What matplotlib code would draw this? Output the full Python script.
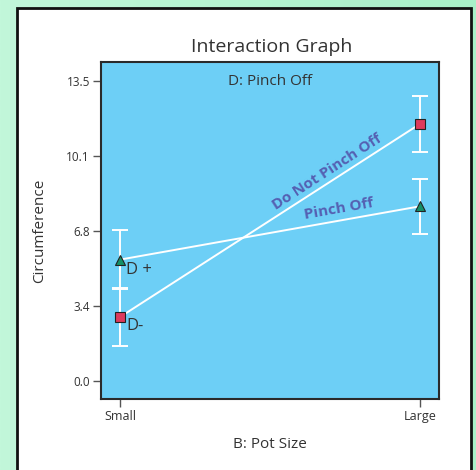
import numpy as np
import matplotlib
matplotlib.use("Agg")
import matplotlib.pyplot as plt
from matplotlib.patches import Rectangle
from matplotlib.colors import LinearSegmentedColormap

# Interaction of B (pot size) with D (pinch off) on circumference
pot_sizes = ["Small", "Large"]
pinch_off_means = [5.45, 7.85]        # D+
pinch_off_err = [1.33, 1.24]
no_pinch_means = [2.87, 11.56]        # D-
no_pinch_err = [1.31, 1.25]
y_ticks = [0.0, 3.375, 6.75, 10.125, 13.5]
y_tick_labels = ["0.0", "3.4", "6.8", "10.1", "13.5"]

plt.rcParams["font.family"] = ["Open Sans", "DejaVu Sans"]

fig = plt.figure(figsize=(4.77, 4.70), dpi=100)

# mint gradient backdrop
bg = fig.add_axes([0, 0, 1, 1], zorder=-10)
grad = np.linspace(0, 1, 256).reshape(1, -1)
cmap = LinearSegmentedColormap.from_list("mint", ["#c2f7da", "#a9f0c8"])
bg.imshow(grad, aspect="auto", cmap=cmap, extent=[0, 1, 0, 1])
bg.set_xlim(0, 1)
bg.set_ylim(0, 1)
bg.set_axis_off()

# white card with black border
card = Rectangle((17 / 477, -0.05), (471.5 - 17) / 477, 1.05 - 7.5 / 470,
                 transform=fig.transFigure, facecolor="white",
                 edgecolor="#111111", linewidth=2.0, zorder=-5)
fig.patches.append(card)

ax = fig.add_axes([101 / 477, 1 - 399.3 / 470, 338.5 / 477, 337.6 / 470])
ax.set_facecolor("#6dcff6")

x = np.arange(len(pot_sizes))
line_kw = dict(color="white", linewidth=1.4, zorder=2)
ax.plot(x, no_pinch_means, **line_kw)
ax.plot(x, pinch_off_means, **line_kw)

eb_kw = dict(fmt="none", ecolor="white", elinewidth=1.4, capsize=5.5,
             capthick=1.4, zorder=3)
ax.errorbar(x, no_pinch_means, yerr=no_pinch_err, **eb_kw)
ax.errorbar(x, pinch_off_means, yerr=pinch_off_err, **eb_kw)

ax.plot(x, no_pinch_means, linestyle="none", marker="s", markersize=6.5,
        markerfacecolor="#dd3a5c", markeredgecolor="#222222",
        markeredgewidth=0.8, zorder=4)
ax.plot(x, pinch_off_means, linestyle="none", marker="^", markersize=6.5,
        markerfacecolor="#139068", markeredgecolor="#222222",
        markeredgewidth=0.8, zorder=4)

ax.text(x[0] + 0.018, pinch_off_means[0] - 0.12, "D +", fontsize=12,
        color="#333333", ha="left", va="top", zorder=5)
ax.text(x[0] + 0.02, no_pinch_means[0] - 0.05, "D-", fontsize=12,
        color="#333333", ha="left", va="top", zorder=5)

label_color = "#5560b2"
ax.text(0.69, 9.4, "Do Not Pinch Off", rotation=33, fontsize=11,
        fontweight="bold", color=label_color, ha="center", va="center",
        rotation_mode="anchor", zorder=5)
ax.text(0.73, 7.72, "Pinch Off", rotation=10, fontsize=11,
        fontweight="bold", color=label_color, ha="center", va="center",
        rotation_mode="anchor", zorder=5)

ax.text(0.5, 0.965, "D: Pinch Off", transform=ax.transAxes, ha="center",
        va="top", fontsize=11, color="#333333")

ax.set_xlim(-0.064, 1.065)
ax.set_ylim(-0.84, 14.36)
ax.set_xticks(x)
ax.set_xticklabels(pot_sizes, fontsize=9, color="#333333")
ax.set_yticks(y_ticks)
ax.set_yticklabels(y_tick_labels, fontsize=8.5, color="#333333")
ax.tick_params(axis="both", direction="out", length=6, width=1.0,
               color="#555555", pad=2)
for s in ax.spines.values():
    s.set_color("#2a2a2a")
    s.set_linewidth(1.5)

ax.set_xlabel("B: Pot Size", fontsize=11, color="#333333", labelpad=10)
ax.set_ylabel("Circumference", fontsize=11, color="#333333", labelpad=14)
fig.text(272 / 477, 1 - 47 / 470, "Interaction Graph", ha="center",
         va="center", fontsize=14, color="#333333")

fig.savefig("out.png", dpi=100)
